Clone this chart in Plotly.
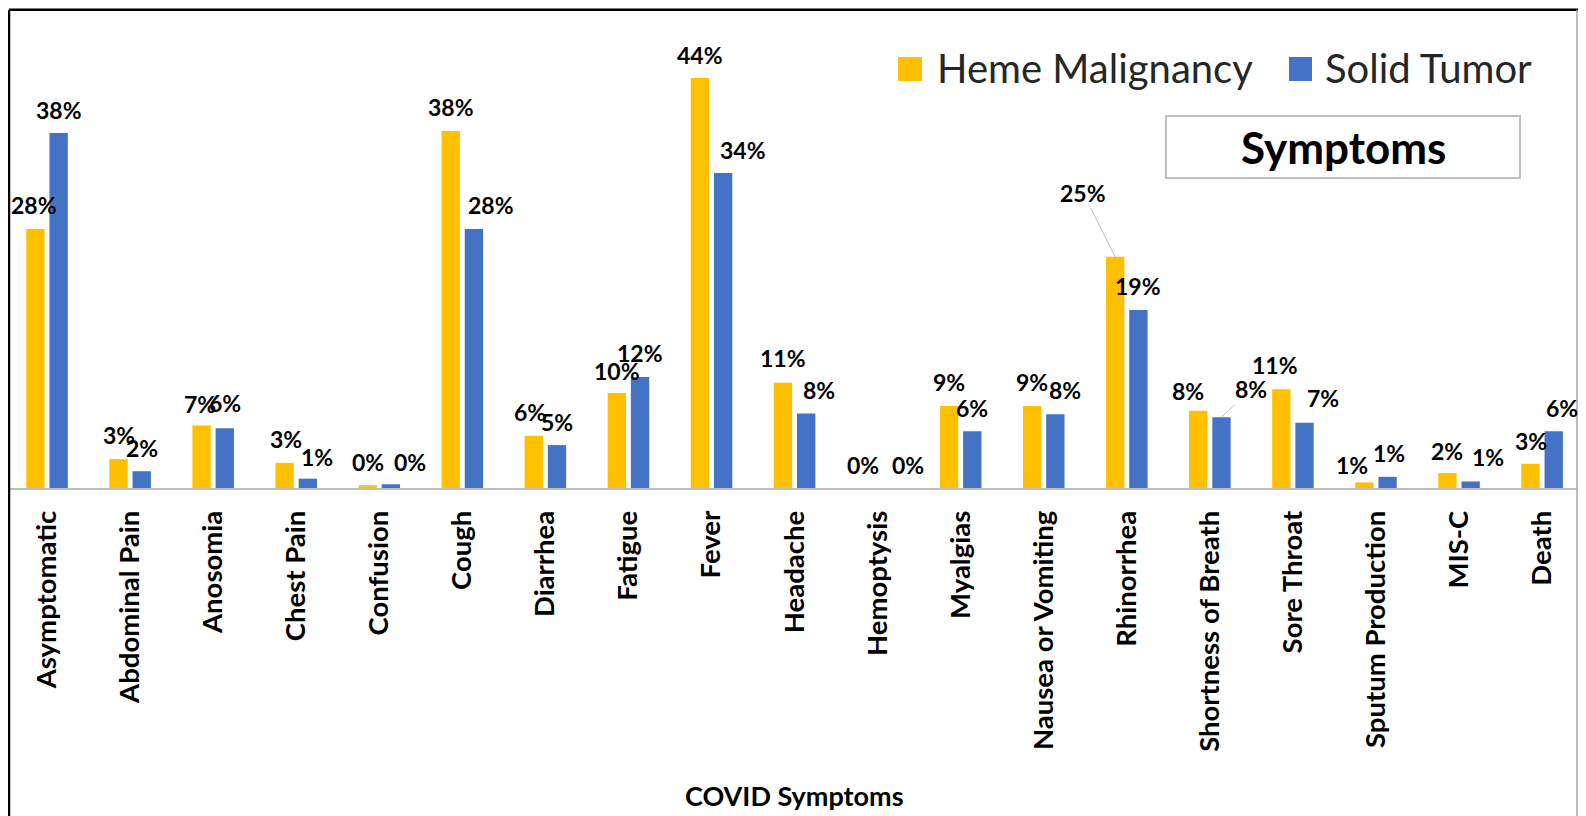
import plotly.graph_objects as go

# ---------------- data ----------------
categories = ["Asymptomatic", "Abdominal Pain", "Anosomia", "Chest Pain", "Confusion",
              "Cough", "Diarrhea", "Fatigue", "Fever", "Headache", "Hemoptysis",
              "Myalgias", "Nausea or Vomiting", "Rhinorrhea", "Shortness of Breath",
              "Sore Throat", "Sputum Production", "MIS-C", "Death"]
heme_malignancy = [27.8, 3.1, 6.7, 2.7, 0.3, 38.3, 5.6, 10.2, 44.0, 11.3, 0.0,
                   8.8, 8.8, 24.8, 8.3, 10.6, 0.6, 1.6, 2.6]
solid_tumor = [38.1, 1.8, 6.4, 1.0, 0.4, 27.8, 4.6, 11.9, 33.8, 8.0, 0.0,
               6.1, 7.9, 19.1, 7.6, 7.0, 1.2, 0.7, 6.1]
series_names = ["Heme Malignancy", "Solid Tumor"]
x_title = "COVID Symptoms"
box_title = "Symptoms"

# ---------------- style ----------------
OFF = 8                      # page offset of the figure (body margin)
W, H = 1570, 808
ML, MR, MT = 0, 1, 14
MB = H - (488 - OFF)
PW, PH = W - ML - MR, H - MT - MB
YELLOW, BLUE = "#FFC000", "#4472C4"
FONT = "Lato"
LABEL_SIZE = 23
TICK_SIZE = 27.5
BAR_HALF = 11.6  # pixel offset of each bar from category centre

# per-label pixel nudges (label placement like the original)
heme_dx = [-1, 0, -2, 1, 0, 0, -4, 0, 0, 0, -3, 0, 0, 0, -10, -6, -12, 0, 0]
heme_dy = [24, 24, 22, 24, 23, 24, 24, 22, 23, 25, 23, 24, 24, 24, 20, 24, 17, 22, 23]
solid_dx = [0, 0, 0, 9, 19, 17, 0, 0, 20, 13, 19, 0, 10, 0, 0, 18, 1, 17, 8]
solid_dy = [23, 23, 25, 22, 22, 24, 23, 24, 23, 23, 23, 23, 24, 24, 23, 25, 24, 24, 23]
heme_callout = {"Rhinorrhea": (-32, -64)}
solid_callout = {"Shortness of Breath": (30, -28)}


def fx(px):  # page pixel -> paper fraction
    return (px - OFF - ML) / PW


def fy(py):
    return (H + OFF - MB - py) / PH


fig = go.Figure()
fig.add_trace(go.Bar(x=categories, y=heme_malignancy, name=series_names[0],
                     marker=dict(color=YELLOW, line=dict(width=0))))
fig.add_trace(go.Bar(x=categories, y=solid_tumor, name=series_names[1],
                     marker=dict(color=BLUE, line=dict(width=0))))

label_font = dict(family=FONT, size=LABEL_SIZE, color="#000000", weight="bold")
annotations = []
for vals, side, dxs, dys, callouts in (
        (heme_malignancy, -1, heme_dx, heme_dy, heme_callout),
        (solid_tumor, 1, solid_dx, solid_dy, solid_callout)):
    for c, v, dx, dy in zip(categories, vals, dxs, dys):
        txt = f"{v:.0f}%"
        if c in callouts:
            ax, ay = callouts[c]
            annotations.append(dict(
                x=c, y=v, xref="x", yref="y", text=txt, xshift=side * BAR_HALF,
                showarrow=True, arrowhead=0, arrowwidth=1, arrowcolor="#BFBFBF",
                standoff=0, ax=ax, ay=ay, font=label_font))
        else:
            annotations.append(dict(
                x=c, y=v, xref="x", yref="y", text=txt, showarrow=False,
                xshift=side * BAR_HALF + dx, yshift=dy, yanchor="middle", xanchor="center",
                font=label_font))

# axis title
annotations.append(dict(x=fx(794), y=fy(795), xref="paper", yref="paper", text=x_title,
                        showarrow=False, xanchor="center", yanchor="middle",
                        font=dict(family=FONT, size=27, color="#000000", weight="bold")))
# legend text
annotations.append(dict(x=fx(935), y=fy(68.5), xref="paper", yref="paper", text=series_names[0],
                        showarrow=False, xanchor="left", yanchor="middle",
                        font=dict(family=FONT, size=40, color="#262626")))
annotations.append(dict(x=fx(1323), y=fy(68.5), xref="paper", yref="paper", text=series_names[1],
                        showarrow=False, xanchor="left", yanchor="middle",
                        font=dict(family=FONT, size=40, color="#262626")))
# box title
annotations.append(dict(x=fx(1343), y=fy(147), xref="paper", yref="paper", text=box_title,
                        showarrow=False, xanchor="center", yanchor="middle",
                        font=dict(family=FONT, size=44, color="#000000", weight="bold")))

shapes = [
    # outer frame
    dict(type="line", xref="paper", yref="paper", x0=fx(9), x1=fx(1578), y0=fy(9.7), y1=fy(9.7),
         line=dict(color="#000000", width=2.5)),
    dict(type="line", xref="paper", yref="paper", x0=fx(9), x1=fx(9), y0=fy(9.7), y1=fy(830),
         line=dict(color="#000000", width=2.5)),
    dict(type="line", xref="paper", yref="paper", x0=fx(1577), x1=fx(1577), y0=fy(9.7), y1=fy(830),
         line=dict(color="#A6A6A6", width=1.5)),
    # legend swatches
    dict(type="rect", xref="paper", yref="paper", x0=fx(898), x1=fx(922), y0=fy(57), y1=fy(81),
         fillcolor=YELLOW, line=dict(width=0)),
    dict(type="rect", xref="paper", yref="paper", x0=fx(1289), x1=fx(1312), y0=fy(57), y1=fy(81),
         fillcolor=BLUE, line=dict(width=0)),
    # title box
    dict(type="rect", xref="paper", yref="paper", x0=fx(1166), x1=fx(1520), y0=fy(116), y1=fy(178),
         fillcolor="white", line=dict(color="#BFBFBF", width=2)),
]

fig.update_layout(
    width=W, height=H,
    margin=dict(l=ML, r=MR, t=MT, b=MB, pad=0),
    paper_bgcolor="white", plot_bgcolor="white",
    barmode="group", bargap=0.441, bargroupgap=0.21,
    showlegend=False,
    annotations=annotations, shapes=shapes,
    font=dict(family=FONT, color="#000000"),
)
fig.update_xaxes(range=[-0.47, 18.42], showline=True, linecolor="#BFBFBF", linewidth=1.5,
                 ticks="", tickangle=-90, ticklabelstandoff=10, showgrid=False,
                 tickfont=dict(family=FONT, size=TICK_SIZE, color="#000000", weight="bold"))
fig.update_yaxes(range=[0, 50], visible=False, showgrid=False, zeroline=False)

fig.write_html("out.html")
